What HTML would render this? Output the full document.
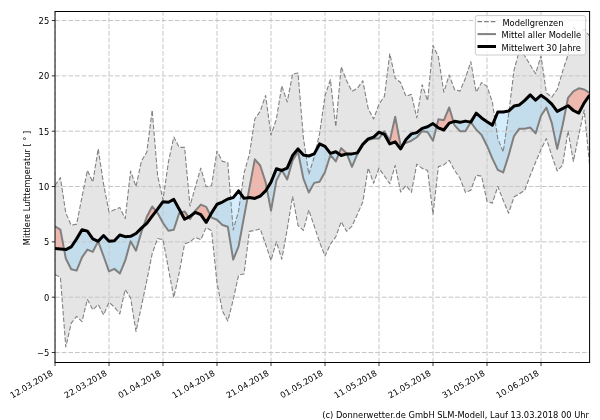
<!DOCTYPE html>
<html><head><meta charset="utf-8"><title>Temperatur</title>
<style>html,body{margin:0;padding:0;background:#fff;width:600px;height:420px;overflow:hidden}</style>
</head><body>
<svg width="600" height="420" viewBox="0 0 600 420" style="display:block">
<rect x="0" y="0" width="600" height="420" fill="#ffffff"/>
<defs>
<clipPath id="ax"><rect x="55.0" y="11.5" width="534.6" height="351.0"/></clipPath>
<clipPath id="above"><polygon points="55.00,0 55.00,248.51 60.40,249.06 65.80,249.61 71.20,246.96 76.60,238.88 82.00,229.69 87.40,231.13 92.80,238.88 98.20,241.31 103.60,235.56 109.00,241.31 114.40,240.76 119.80,235.00 125.20,236.66 130.60,236.33 136.00,233.45 141.40,228.14 146.80,223.38 152.20,216.19 157.60,209.11 163.00,201.69 168.40,202.25 173.80,199.37 179.20,209.33 184.60,219.29 190.00,216.41 195.40,212.32 200.80,214.64 206.20,222.39 211.60,212.87 217.00,204.24 222.40,202.02 227.80,199.04 233.20,197.60 238.60,190.96 244.00,198.37 249.40,197.60 254.80,198.48 260.20,196.05 265.60,190.96 271.00,182.10 276.40,168.71 281.80,170.48 287.20,168.16 292.60,155.54 298.00,148.90 303.40,154.99 308.80,155.99 314.20,153.88 319.60,143.92 325.00,146.36 330.40,153.33 335.80,151.78 341.20,155.54 346.60,153.88 352.00,153.88 357.40,152.89 362.80,144.25 368.20,138.94 373.60,137.06 379.00,132.08 384.40,134.29 389.80,143.92 395.20,141.82 400.60,148.90 406.00,139.50 411.40,133.85 416.80,132.63 422.20,128.32 427.60,126.77 433.00,123.56 438.40,127.87 443.80,129.98 449.20,123.12 454.60,121.35 460.00,122.34 465.40,121.12 470.80,122.12 476.20,113.16 481.60,117.91 487.00,121.68 492.40,125.11 497.80,112.05 503.20,112.05 508.60,111.05 514.00,106.07 519.40,104.97 524.80,100.32 530.20,94.90 535.60,100.21 541.00,95.23 546.40,99.10 551.80,104.19 557.20,111.39 562.60,108.62 568.00,105.74 573.40,110.50 578.80,113.05 584.20,102.86 589.60,95.23 589.60,0"/></clipPath>
<clipPath id="below"><polygon points="55.00,420 55.00,248.51 60.40,249.06 65.80,249.61 71.20,246.96 76.60,238.88 82.00,229.69 87.40,231.13 92.80,238.88 98.20,241.31 103.60,235.56 109.00,241.31 114.40,240.76 119.80,235.00 125.20,236.66 130.60,236.33 136.00,233.45 141.40,228.14 146.80,223.38 152.20,216.19 157.60,209.11 163.00,201.69 168.40,202.25 173.80,199.37 179.20,209.33 184.60,219.29 190.00,216.41 195.40,212.32 200.80,214.64 206.20,222.39 211.60,212.87 217.00,204.24 222.40,202.02 227.80,199.04 233.20,197.60 238.60,190.96 244.00,198.37 249.40,197.60 254.80,198.48 260.20,196.05 265.60,190.96 271.00,182.10 276.40,168.71 281.80,170.48 287.20,168.16 292.60,155.54 298.00,148.90 303.40,154.99 308.80,155.99 314.20,153.88 319.60,143.92 325.00,146.36 330.40,153.33 335.80,151.78 341.20,155.54 346.60,153.88 352.00,153.88 357.40,152.89 362.80,144.25 368.20,138.94 373.60,137.06 379.00,132.08 384.40,134.29 389.80,143.92 395.20,141.82 400.60,148.90 406.00,139.50 411.40,133.85 416.80,132.63 422.20,128.32 427.60,126.77 433.00,123.56 438.40,127.87 443.80,129.98 449.20,123.12 454.60,121.35 460.00,122.34 465.40,121.12 470.80,122.12 476.20,113.16 481.60,117.91 487.00,121.68 492.40,125.11 497.80,112.05 503.20,112.05 508.60,111.05 514.00,106.07 519.40,104.97 524.80,100.32 530.20,94.90 535.60,100.21 541.00,95.23 546.40,99.10 551.80,104.19 557.20,111.39 562.60,108.62 568.00,105.74 573.40,110.50 578.80,113.05 584.20,102.86 589.60,95.23 589.60,420"/></clipPath>
</defs>
<g clip-path="url(#ax)">
<polygon points="55.00,185.42 60.40,177.68 65.80,213.09 71.20,225.26 76.60,224.16 82.00,197.04 87.40,170.37 92.80,182.10 98.20,148.90 103.60,184.32 109.00,211.98 114.40,209.77 119.80,207.56 125.20,218.62 130.60,171.04 136.00,186.53 141.40,161.08 146.80,152.22 152.20,110.17 157.60,175.46 163.00,199.81 168.40,162.18 173.80,137.06 179.20,147.35 184.60,147.35 190.00,206.01 195.40,186.53 200.80,168.16 206.20,186.75 211.60,185.42 217.00,151.12 222.40,161.41 227.80,162.51 233.20,230.02 238.60,210.88 244.00,173.25 249.40,154.44 254.80,119.02 260.20,111.27 265.60,95.45 271.00,135.07 276.40,119.02 281.80,85.82 287.20,101.87 292.60,73.98 298.00,72.98 303.40,137.84 308.80,174.36 314.20,157.09 319.60,133.63 325.00,95.78 330.40,79.62 335.80,126.77 341.20,66.79 346.60,80.73 352.00,91.35 357.40,88.26 362.80,80.73 368.20,108.62 373.60,119.02 379.00,104.08 384.40,96.44 389.80,53.73 395.20,78.18 400.60,82.50 406.00,96.44 411.40,94.34 416.80,117.91 422.20,84.71 427.60,100.65 433.00,45.43 438.40,56.82 443.80,92.13 449.20,74.97 454.60,89.69 460.00,91.13 465.40,78.18 470.80,61.69 476.20,92.13 481.60,82.50 487.00,86.37 492.40,102.42 497.80,138.61 503.20,151.89 508.60,114.59 514.00,70.33 519.40,50.41 524.80,55.94 530.20,65.01 535.60,73.65 541.00,55.94 546.40,92.90 551.80,97.11 557.20,89.47 562.60,71.43 568.00,54.83 573.40,27.17 578.80,32.70 584.20,29.38 589.60,36.02 589.60,165.17 584.20,110.17 578.80,134.85 573.40,161.41 568.00,130.97 562.60,165.17 557.20,171.04 551.80,155.65 546.40,138.61 541.00,149.46 535.60,162.18 530.20,175.46 524.80,190.29 519.40,193.83 514.00,197.04 508.60,213.20 503.20,200.36 497.80,186.42 492.40,203.13 487.00,201.36 481.60,176.13 476.20,175.24 470.80,190.29 465.40,192.40 460.00,178.23 454.60,170.37 449.20,160.30 443.80,164.95 438.40,166.61 433.00,214.20 427.60,170.48 422.20,168.38 416.80,164.06 411.40,192.28 406.00,185.42 400.60,192.06 395.20,165.39 389.80,183.76 384.40,176.02 379.00,168.27 373.60,183.21 368.20,167.94 362.80,202.02 357.40,214.20 352.00,226.04 346.60,231.35 341.20,221.72 335.80,236.77 330.40,244.30 325.00,256.03 319.60,242.09 314.20,226.04 308.80,209.99 303.40,230.36 298.00,225.26 292.60,196.49 287.20,229.25 281.80,259.24 276.40,241.86 271.00,260.35 265.60,244.30 260.20,228.92 254.80,230.36 249.40,231.35 244.00,273.96 238.60,275.07 233.20,299.97 227.80,320.99 222.40,311.03 217.00,282.81 211.60,230.80 206.20,227.48 200.80,239.65 195.40,237.44 190.00,241.86 184.60,243.86 179.20,272.85 173.80,297.42 168.40,268.43 163.00,239.65 157.60,238.54 152.20,253.60 146.80,280.60 141.40,306.61 136.00,331.51 130.60,297.97 125.20,289.45 119.80,313.80 114.40,307.16 109.00,302.18 103.60,314.91 98.20,304.50 92.80,309.82 87.40,299.41 82.00,321.55 76.60,316.35 71.20,323.21 65.80,347.00 60.40,277.28 55.00,274.51" fill="#e5e5e5" stroke="none"/>
<g clip-path="url(#above)"><polygon points="55.00,226.37 60.40,229.69 65.80,258.47 71.20,269.20 76.60,270.64 82.00,257.36 87.40,249.61 92.80,251.83 98.20,241.31 103.60,256.25 109.00,271.30 114.40,268.87 119.80,273.52 125.20,260.68 130.60,241.31 136.00,250.72 141.40,231.90 146.80,216.74 152.20,206.45 157.60,213.09 163.00,223.05 168.40,230.80 173.80,229.69 179.20,213.09 184.60,211.43 190.00,219.18 195.40,210.55 200.80,204.57 206.20,206.89 211.60,217.63 217.00,219.73 222.40,224.93 227.80,226.70 233.20,259.57 238.60,246.29 244.00,216.96 249.40,188.19 254.80,159.31 260.20,165.50 265.60,182.10 271.00,210.66 276.40,180.66 281.80,169.93 287.20,179.56 292.60,160.41 298.00,151.78 303.40,178.56 308.80,192.51 314.20,182.88 319.60,181.77 325.00,172.03 330.40,154.99 335.80,161.41 341.20,148.13 346.60,153.33 352.00,166.83 357.40,153.88 362.80,145.36 368.20,140.05 373.60,138.61 379.00,138.39 384.40,131.19 389.80,140.71 395.20,116.81 400.60,145.58 406.00,142.93 411.40,140.71 416.80,137.28 422.20,131.19 427.60,132.08 433.00,140.71 438.40,119.24 443.80,120.35 449.20,107.51 454.60,125.44 460.00,131.19 465.40,131.19 470.80,122.12 476.20,129.65 481.60,134.96 487.00,145.69 492.40,158.64 497.80,169.93 503.20,172.47 508.60,155.43 514.00,136.06 519.40,128.65 524.80,128.65 530.20,127.54 535.60,133.41 541.00,115.70 546.40,107.62 551.80,122.89 557.20,148.90 562.60,125.22 568.00,97.99 573.40,91.35 578.80,88.26 584.20,89.47 589.60,93.01 589.60,95.23 584.20,102.86 578.80,113.05 573.40,110.50 568.00,105.74 562.60,108.62 557.20,111.39 551.80,104.19 546.40,99.10 541.00,95.23 535.60,100.21 530.20,94.90 524.80,100.32 519.40,104.97 514.00,106.07 508.60,111.05 503.20,112.05 497.80,112.05 492.40,125.11 487.00,121.68 481.60,117.91 476.20,113.16 470.80,122.12 465.40,121.12 460.00,122.34 454.60,121.35 449.20,123.12 443.80,129.98 438.40,127.87 433.00,123.56 427.60,126.77 422.20,128.32 416.80,132.63 411.40,133.85 406.00,139.50 400.60,148.90 395.20,141.82 389.80,143.92 384.40,134.29 379.00,132.08 373.60,137.06 368.20,138.94 362.80,144.25 357.40,152.89 352.00,153.88 346.60,153.88 341.20,155.54 335.80,151.78 330.40,153.33 325.00,146.36 319.60,143.92 314.20,153.88 308.80,155.99 303.40,154.99 298.00,148.90 292.60,155.54 287.20,168.16 281.80,170.48 276.40,168.71 271.00,182.10 265.60,190.96 260.20,196.05 254.80,198.48 249.40,197.60 244.00,198.37 238.60,190.96 233.20,197.60 227.80,199.04 222.40,202.02 217.00,204.24 211.60,212.87 206.20,222.39 200.80,214.64 195.40,212.32 190.00,216.41 184.60,219.29 179.20,209.33 173.80,199.37 168.40,202.25 163.00,201.69 157.60,209.11 152.20,216.19 146.80,223.38 141.40,228.14 136.00,233.45 130.60,236.33 125.20,236.66 119.80,235.00 114.40,240.76 109.00,241.31 103.60,235.56 98.20,241.31 92.80,238.88 87.40,231.13 82.00,229.69 76.60,238.88 71.20,246.96 65.80,249.61 60.40,249.06 55.00,248.51" fill="#ff6347" fill-opacity="0.35" stroke="none"/></g>
<g clip-path="url(#below)"><polygon points="55.00,226.37 60.40,229.69 65.80,258.47 71.20,269.20 76.60,270.64 82.00,257.36 87.40,249.61 92.80,251.83 98.20,241.31 103.60,256.25 109.00,271.30 114.40,268.87 119.80,273.52 125.20,260.68 130.60,241.31 136.00,250.72 141.40,231.90 146.80,216.74 152.20,206.45 157.60,213.09 163.00,223.05 168.40,230.80 173.80,229.69 179.20,213.09 184.60,211.43 190.00,219.18 195.40,210.55 200.80,204.57 206.20,206.89 211.60,217.63 217.00,219.73 222.40,224.93 227.80,226.70 233.20,259.57 238.60,246.29 244.00,216.96 249.40,188.19 254.80,159.31 260.20,165.50 265.60,182.10 271.00,210.66 276.40,180.66 281.80,169.93 287.20,179.56 292.60,160.41 298.00,151.78 303.40,178.56 308.80,192.51 314.20,182.88 319.60,181.77 325.00,172.03 330.40,154.99 335.80,161.41 341.20,148.13 346.60,153.33 352.00,166.83 357.40,153.88 362.80,145.36 368.20,140.05 373.60,138.61 379.00,138.39 384.40,131.19 389.80,140.71 395.20,116.81 400.60,145.58 406.00,142.93 411.40,140.71 416.80,137.28 422.20,131.19 427.60,132.08 433.00,140.71 438.40,119.24 443.80,120.35 449.20,107.51 454.60,125.44 460.00,131.19 465.40,131.19 470.80,122.12 476.20,129.65 481.60,134.96 487.00,145.69 492.40,158.64 497.80,169.93 503.20,172.47 508.60,155.43 514.00,136.06 519.40,128.65 524.80,128.65 530.20,127.54 535.60,133.41 541.00,115.70 546.40,107.62 551.80,122.89 557.20,148.90 562.60,125.22 568.00,97.99 573.40,91.35 578.80,88.26 584.20,89.47 589.60,93.01 589.60,95.23 584.20,102.86 578.80,113.05 573.40,110.50 568.00,105.74 562.60,108.62 557.20,111.39 551.80,104.19 546.40,99.10 541.00,95.23 535.60,100.21 530.20,94.90 524.80,100.32 519.40,104.97 514.00,106.07 508.60,111.05 503.20,112.05 497.80,112.05 492.40,125.11 487.00,121.68 481.60,117.91 476.20,113.16 470.80,122.12 465.40,121.12 460.00,122.34 454.60,121.35 449.20,123.12 443.80,129.98 438.40,127.87 433.00,123.56 427.60,126.77 422.20,128.32 416.80,132.63 411.40,133.85 406.00,139.50 400.60,148.90 395.20,141.82 389.80,143.92 384.40,134.29 379.00,132.08 373.60,137.06 368.20,138.94 362.80,144.25 357.40,152.89 352.00,153.88 346.60,153.88 341.20,155.54 335.80,151.78 330.40,153.33 325.00,146.36 319.60,143.92 314.20,153.88 308.80,155.99 303.40,154.99 298.00,148.90 292.60,155.54 287.20,168.16 281.80,170.48 276.40,168.71 271.00,182.10 265.60,190.96 260.20,196.05 254.80,198.48 249.40,197.60 244.00,198.37 238.60,190.96 233.20,197.60 227.80,199.04 222.40,202.02 217.00,204.24 211.60,212.87 206.20,222.39 200.80,214.64 195.40,212.32 190.00,216.41 184.60,219.29 179.20,209.33 173.80,199.37 168.40,202.25 163.00,201.69 157.60,209.11 152.20,216.19 146.80,223.38 141.40,228.14 136.00,233.45 130.60,236.33 125.20,236.66 119.80,235.00 114.40,240.76 109.00,241.31 103.60,235.56 98.20,241.31 92.80,238.88 87.40,231.13 82.00,229.69 76.60,238.88 71.20,246.96 65.80,249.61 60.40,249.06 55.00,248.51" fill="#87cefa" fill-opacity="0.35" stroke="none"/></g>
<line x1="55.0" y1="352.53" x2="589.6" y2="352.53" stroke="#c6c6c6" stroke-width="1" stroke-dasharray="4.7 1.97"/>
<line x1="55.0" y1="297.20" x2="589.6" y2="297.20" stroke="#c6c6c6" stroke-width="1" stroke-dasharray="4.7 1.97"/>
<line x1="55.0" y1="241.86" x2="589.6" y2="241.86" stroke="#c6c6c6" stroke-width="1" stroke-dasharray="4.7 1.97"/>
<line x1="55.0" y1="186.53" x2="589.6" y2="186.53" stroke="#c6c6c6" stroke-width="1" stroke-dasharray="4.7 1.97"/>
<line x1="55.0" y1="131.19" x2="589.6" y2="131.19" stroke="#c6c6c6" stroke-width="1" stroke-dasharray="4.7 1.97"/>
<line x1="55.0" y1="75.86" x2="589.6" y2="75.86" stroke="#c6c6c6" stroke-width="1" stroke-dasharray="4.7 1.97"/>
<line x1="55.0" y1="20.52" x2="589.6" y2="20.52" stroke="#c6c6c6" stroke-width="1" stroke-dasharray="4.7 1.97"/>
<line x1="55.00" y1="362.5" x2="55.00" y2="11.5" stroke="#c6c6c6" stroke-width="1" stroke-dasharray="4.7 1.97"/>
<line x1="109.00" y1="362.5" x2="109.00" y2="11.5" stroke="#c6c6c6" stroke-width="1" stroke-dasharray="4.7 1.97"/>
<line x1="163.00" y1="362.5" x2="163.00" y2="11.5" stroke="#c6c6c6" stroke-width="1" stroke-dasharray="4.7 1.97"/>
<line x1="217.00" y1="362.5" x2="217.00" y2="11.5" stroke="#c6c6c6" stroke-width="1" stroke-dasharray="4.7 1.97"/>
<line x1="271.00" y1="362.5" x2="271.00" y2="11.5" stroke="#c6c6c6" stroke-width="1" stroke-dasharray="4.7 1.97"/>
<line x1="325.00" y1="362.5" x2="325.00" y2="11.5" stroke="#c6c6c6" stroke-width="1" stroke-dasharray="4.7 1.97"/>
<line x1="379.00" y1="362.5" x2="379.00" y2="11.5" stroke="#c6c6c6" stroke-width="1" stroke-dasharray="4.7 1.97"/>
<line x1="433.00" y1="362.5" x2="433.00" y2="11.5" stroke="#c6c6c6" stroke-width="1" stroke-dasharray="4.7 1.97"/>
<line x1="487.00" y1="362.5" x2="487.00" y2="11.5" stroke="#c6c6c6" stroke-width="1" stroke-dasharray="4.7 1.97"/>
<line x1="541.00" y1="362.5" x2="541.00" y2="11.5" stroke="#c6c6c6" stroke-width="1" stroke-dasharray="4.7 1.97"/>
<polyline points="55.00,185.42 60.40,177.68 65.80,213.09 71.20,225.26 76.60,224.16 82.00,197.04 87.40,170.37 92.80,182.10 98.20,148.90 103.60,184.32 109.00,211.98 114.40,209.77 119.80,207.56 125.20,218.62 130.60,171.04 136.00,186.53 141.40,161.08 146.80,152.22 152.20,110.17 157.60,175.46 163.00,199.81 168.40,162.18 173.80,137.06 179.20,147.35 184.60,147.35 190.00,206.01 195.40,186.53 200.80,168.16 206.20,186.75 211.60,185.42 217.00,151.12 222.40,161.41 227.80,162.51 233.20,230.02 238.60,210.88 244.00,173.25 249.40,154.44 254.80,119.02 260.20,111.27 265.60,95.45 271.00,135.07 276.40,119.02 281.80,85.82 287.20,101.87 292.60,73.98 298.00,72.98 303.40,137.84 308.80,174.36 314.20,157.09 319.60,133.63 325.00,95.78 330.40,79.62 335.80,126.77 341.20,66.79 346.60,80.73 352.00,91.35 357.40,88.26 362.80,80.73 368.20,108.62 373.60,119.02 379.00,104.08 384.40,96.44 389.80,53.73 395.20,78.18 400.60,82.50 406.00,96.44 411.40,94.34 416.80,117.91 422.20,84.71 427.60,100.65 433.00,45.43 438.40,56.82 443.80,92.13 449.20,74.97 454.60,89.69 460.00,91.13 465.40,78.18 470.80,61.69 476.20,92.13 481.60,82.50 487.00,86.37 492.40,102.42 497.80,138.61 503.20,151.89 508.60,114.59 514.00,70.33 519.40,50.41 524.80,55.94 530.20,65.01 535.60,73.65 541.00,55.94 546.40,92.90 551.80,97.11 557.20,89.47 562.60,71.43 568.00,54.83 573.40,27.17 578.80,32.70 584.20,29.38 589.60,36.02" fill="none" stroke="#828282" stroke-width="1.1" stroke-dasharray="4.63 2.0" stroke-linejoin="round"/>
<polyline points="55.00,274.51 60.40,277.28 65.80,347.00 71.20,323.21 76.60,316.35 82.00,321.55 87.40,299.41 92.80,309.82 98.20,304.50 103.60,314.91 109.00,302.18 114.40,307.16 119.80,313.80 125.20,289.45 130.60,297.97 136.00,331.51 141.40,306.61 146.80,280.60 152.20,253.60 157.60,238.54 163.00,239.65 168.40,268.43 173.80,297.42 179.20,272.85 184.60,243.86 190.00,241.86 195.40,237.44 200.80,239.65 206.20,227.48 211.60,230.80 217.00,282.81 222.40,311.03 227.80,320.99 233.20,299.97 238.60,275.07 244.00,273.96 249.40,231.35 254.80,230.36 260.20,228.92 265.60,244.30 271.00,260.35 276.40,241.86 281.80,259.24 287.20,229.25 292.60,196.49 298.00,225.26 303.40,230.36 308.80,209.99 314.20,226.04 319.60,242.09 325.00,256.03 330.40,244.30 335.80,236.77 341.20,221.72 346.60,231.35 352.00,226.04 357.40,214.20 362.80,202.02 368.20,167.94 373.60,183.21 379.00,168.27 384.40,176.02 389.80,183.76 395.20,165.39 400.60,192.06 406.00,185.42 411.40,192.28 416.80,164.06 422.20,168.38 427.60,170.48 433.00,214.20 438.40,166.61 443.80,164.95 449.20,160.30 454.60,170.37 460.00,178.23 465.40,192.40 470.80,190.29 476.20,175.24 481.60,176.13 487.00,201.36 492.40,203.13 497.80,186.42 503.20,200.36 508.60,213.20 514.00,197.04 519.40,193.83 524.80,190.29 530.20,175.46 535.60,162.18 541.00,149.46 546.40,138.61 551.80,155.65 557.20,171.04 562.60,165.17 568.00,130.97 573.40,161.41 578.80,134.85 584.20,110.17 589.60,165.17" fill="none" stroke="#828282" stroke-width="1.1" stroke-dasharray="4.63 2.0" stroke-linejoin="round"/>
<polyline points="55.00,226.37 60.40,229.69 65.80,258.47 71.20,269.20 76.60,270.64 82.00,257.36 87.40,249.61 92.80,251.83 98.20,241.31 103.60,256.25 109.00,271.30 114.40,268.87 119.80,273.52 125.20,260.68 130.60,241.31 136.00,250.72 141.40,231.90 146.80,216.74 152.20,206.45 157.60,213.09 163.00,223.05 168.40,230.80 173.80,229.69 179.20,213.09 184.60,211.43 190.00,219.18 195.40,210.55 200.80,204.57 206.20,206.89 211.60,217.63 217.00,219.73 222.40,224.93 227.80,226.70 233.20,259.57 238.60,246.29 244.00,216.96 249.40,188.19 254.80,159.31 260.20,165.50 265.60,182.10 271.00,210.66 276.40,180.66 281.80,169.93 287.20,179.56 292.60,160.41 298.00,151.78 303.40,178.56 308.80,192.51 314.20,182.88 319.60,181.77 325.00,172.03 330.40,154.99 335.80,161.41 341.20,148.13 346.60,153.33 352.00,166.83 357.40,153.88 362.80,145.36 368.20,140.05 373.60,138.61 379.00,138.39 384.40,131.19 389.80,140.71 395.20,116.81 400.60,145.58 406.00,142.93 411.40,140.71 416.80,137.28 422.20,131.19 427.60,132.08 433.00,140.71 438.40,119.24 443.80,120.35 449.20,107.51 454.60,125.44 460.00,131.19 465.40,131.19 470.80,122.12 476.20,129.65 481.60,134.96 487.00,145.69 492.40,158.64 497.80,169.93 503.20,172.47 508.60,155.43 514.00,136.06 519.40,128.65 524.80,128.65 530.20,127.54 535.60,133.41 541.00,115.70 546.40,107.62 551.80,122.89 557.20,148.90 562.60,125.22 568.00,97.99 573.40,91.35 578.80,88.26 584.20,89.47 589.60,93.01" fill="none" stroke="#808080" stroke-width="2" stroke-linejoin="round" stroke-linecap="butt"/>
<polyline points="55.00,248.51 60.40,249.06 65.80,249.61 71.20,246.96 76.60,238.88 82.00,229.69 87.40,231.13 92.80,238.88 98.20,241.31 103.60,235.56 109.00,241.31 114.40,240.76 119.80,235.00 125.20,236.66 130.60,236.33 136.00,233.45 141.40,228.14 146.80,223.38 152.20,216.19 157.60,209.11 163.00,201.69 168.40,202.25 173.80,199.37 179.20,209.33 184.60,219.29 190.00,216.41 195.40,212.32 200.80,214.64 206.20,222.39 211.60,212.87 217.00,204.24 222.40,202.02 227.80,199.04 233.20,197.60 238.60,190.96 244.00,198.37 249.40,197.60 254.80,198.48 260.20,196.05 265.60,190.96 271.00,182.10 276.40,168.71 281.80,170.48 287.20,168.16 292.60,155.54 298.00,148.90 303.40,154.99 308.80,155.99 314.20,153.88 319.60,143.92 325.00,146.36 330.40,153.33 335.80,151.78 341.20,155.54 346.60,153.88 352.00,153.88 357.40,152.89 362.80,144.25 368.20,138.94 373.60,137.06 379.00,132.08 384.40,134.29 389.80,143.92 395.20,141.82 400.60,148.90 406.00,139.50 411.40,133.85 416.80,132.63 422.20,128.32 427.60,126.77 433.00,123.56 438.40,127.87 443.80,129.98 449.20,123.12 454.60,121.35 460.00,122.34 465.40,121.12 470.80,122.12 476.20,113.16 481.60,117.91 487.00,121.68 492.40,125.11 497.80,112.05 503.20,112.05 508.60,111.05 514.00,106.07 519.40,104.97 524.80,100.32 530.20,94.90 535.60,100.21 541.00,95.23 546.40,99.10 551.80,104.19 557.20,111.39 562.60,108.62 568.00,105.74 573.40,110.50 578.80,113.05 584.20,102.86 589.60,95.23" fill="none" stroke="#000000" stroke-width="3" stroke-linejoin="round" stroke-linecap="butt"/>
</g>
<rect x="55.0" y="11.5" width="534.60" height="351.00" fill="none" stroke="#000" stroke-width="1"/>
<line x1="51.8" y1="352.53" x2="55.0" y2="352.53" stroke="#000" stroke-width="0.8"/>
<text x="49.2" y="356.03" text-anchor="end" style="font-family:'DejaVu Sans','Liberation Sans',sans-serif;font-size:8.33px" fill="#000">−5</text>
<line x1="51.8" y1="297.20" x2="55.0" y2="297.20" stroke="#000" stroke-width="0.8"/>
<text x="49.2" y="300.70" text-anchor="end" style="font-family:'DejaVu Sans','Liberation Sans',sans-serif;font-size:8.33px" fill="#000">0</text>
<line x1="51.8" y1="241.86" x2="55.0" y2="241.86" stroke="#000" stroke-width="0.8"/>
<text x="49.2" y="245.36" text-anchor="end" style="font-family:'DejaVu Sans','Liberation Sans',sans-serif;font-size:8.33px" fill="#000">5</text>
<line x1="51.8" y1="186.53" x2="55.0" y2="186.53" stroke="#000" stroke-width="0.8"/>
<text x="49.2" y="190.03" text-anchor="end" style="font-family:'DejaVu Sans','Liberation Sans',sans-serif;font-size:8.33px" fill="#000">10</text>
<line x1="51.8" y1="131.19" x2="55.0" y2="131.19" stroke="#000" stroke-width="0.8"/>
<text x="49.2" y="134.69" text-anchor="end" style="font-family:'DejaVu Sans','Liberation Sans',sans-serif;font-size:8.33px" fill="#000">15</text>
<line x1="51.8" y1="75.86" x2="55.0" y2="75.86" stroke="#000" stroke-width="0.8"/>
<text x="49.2" y="79.36" text-anchor="end" style="font-family:'DejaVu Sans','Liberation Sans',sans-serif;font-size:8.33px" fill="#000">20</text>
<line x1="51.8" y1="20.52" x2="55.0" y2="20.52" stroke="#000" stroke-width="0.8"/>
<text x="49.2" y="24.02" text-anchor="end" style="font-family:'DejaVu Sans','Liberation Sans',sans-serif;font-size:8.33px" fill="#000">25</text>
<line x1="55.00" y1="362.5" x2="55.00" y2="366.0" stroke="#000" stroke-width="0.8"/>
<text x="0" y="0" text-anchor="end" transform="translate(53.64,374.77) rotate(-30)" style="font-family:'DejaVu Sans','Liberation Sans',sans-serif;font-size:8.33px" fill="#000">12.03.2018</text>
<line x1="109.00" y1="362.5" x2="109.00" y2="366.0" stroke="#000" stroke-width="0.8"/>
<text x="0" y="0" text-anchor="end" transform="translate(107.64,374.77) rotate(-30)" style="font-family:'DejaVu Sans','Liberation Sans',sans-serif;font-size:8.33px" fill="#000">22.03.2018</text>
<line x1="163.00" y1="362.5" x2="163.00" y2="366.0" stroke="#000" stroke-width="0.8"/>
<text x="0" y="0" text-anchor="end" transform="translate(161.64,374.77) rotate(-30)" style="font-family:'DejaVu Sans','Liberation Sans',sans-serif;font-size:8.33px" fill="#000">01.04.2018</text>
<line x1="217.00" y1="362.5" x2="217.00" y2="366.0" stroke="#000" stroke-width="0.8"/>
<text x="0" y="0" text-anchor="end" transform="translate(215.64,374.77) rotate(-30)" style="font-family:'DejaVu Sans','Liberation Sans',sans-serif;font-size:8.33px" fill="#000">11.04.2018</text>
<line x1="271.00" y1="362.5" x2="271.00" y2="366.0" stroke="#000" stroke-width="0.8"/>
<text x="0" y="0" text-anchor="end" transform="translate(269.64,374.77) rotate(-30)" style="font-family:'DejaVu Sans','Liberation Sans',sans-serif;font-size:8.33px" fill="#000">21.04.2018</text>
<line x1="325.00" y1="362.5" x2="325.00" y2="366.0" stroke="#000" stroke-width="0.8"/>
<text x="0" y="0" text-anchor="end" transform="translate(323.64,374.77) rotate(-30)" style="font-family:'DejaVu Sans','Liberation Sans',sans-serif;font-size:8.33px" fill="#000">01.05.2018</text>
<line x1="379.00" y1="362.5" x2="379.00" y2="366.0" stroke="#000" stroke-width="0.8"/>
<text x="0" y="0" text-anchor="end" transform="translate(377.64,374.77) rotate(-30)" style="font-family:'DejaVu Sans','Liberation Sans',sans-serif;font-size:8.33px" fill="#000">11.05.2018</text>
<line x1="433.00" y1="362.5" x2="433.00" y2="366.0" stroke="#000" stroke-width="0.8"/>
<text x="0" y="0" text-anchor="end" transform="translate(431.64,374.77) rotate(-30)" style="font-family:'DejaVu Sans','Liberation Sans',sans-serif;font-size:8.33px" fill="#000">21.05.2018</text>
<line x1="487.00" y1="362.5" x2="487.00" y2="366.0" stroke="#000" stroke-width="0.8"/>
<text x="0" y="0" text-anchor="end" transform="translate(485.64,374.77) rotate(-30)" style="font-family:'DejaVu Sans','Liberation Sans',sans-serif;font-size:8.33px" fill="#000">31.05.2018</text>
<line x1="541.00" y1="362.5" x2="541.00" y2="366.0" stroke="#000" stroke-width="0.8"/>
<text x="0" y="0" text-anchor="end" transform="translate(539.64,374.77) rotate(-30)" style="font-family:'DejaVu Sans','Liberation Sans',sans-serif;font-size:8.33px" fill="#000">10.06.2018</text>
<text x="0" y="0" text-anchor="middle" transform="translate(29.8,188.00) rotate(-90)" style="font-family:'DejaVu Sans','Liberation Sans',sans-serif;font-size:8.2px" fill="#000">Mittlere Lufttemperatur [ ° ]</text>
<rect x="475.3" y="15.6" width="110.3" height="39.4" rx="2" ry="2" fill="#ffffff" fill-opacity="0.8" stroke="#cccccc" stroke-width="1"/>
<line x1="477.5" y1="21.7" x2="496" y2="21.7" stroke="#808080" stroke-width="1.25" stroke-dasharray="4.63 2.0"/>
<line x1="477.5" y1="34.1" x2="496" y2="34.1" stroke="#808080" stroke-width="2"/>
<line x1="477.5" y1="46.5" x2="496" y2="46.5" stroke="#000" stroke-width="3"/>
<text x="502.4" y="26.00" style="font-family:'DejaVu Sans','Liberation Sans',sans-serif;font-size:8.33px" fill="#000">Modellgrenzen</text>
<text x="501.6" y="38.40" style="font-family:'DejaVu Sans','Liberation Sans',sans-serif;font-size:8.33px" fill="#000">Mittel aller Modelle</text>
<text x="501.6" y="50.80" style="font-family:'DejaVu Sans','Liberation Sans',sans-serif;font-size:8.33px" fill="#000">Mittelwert 30 Jahre</text>
<text x="589" y="418" text-anchor="end" style="font-family:'DejaVu Sans','Liberation Sans',sans-serif;font-size:8.33px" fill="#000">(c) Donnerwetter.de GmbH SLM-Modell, Lauf 13.03.2018 00 Uhr</text>
</svg>
</body></html>
